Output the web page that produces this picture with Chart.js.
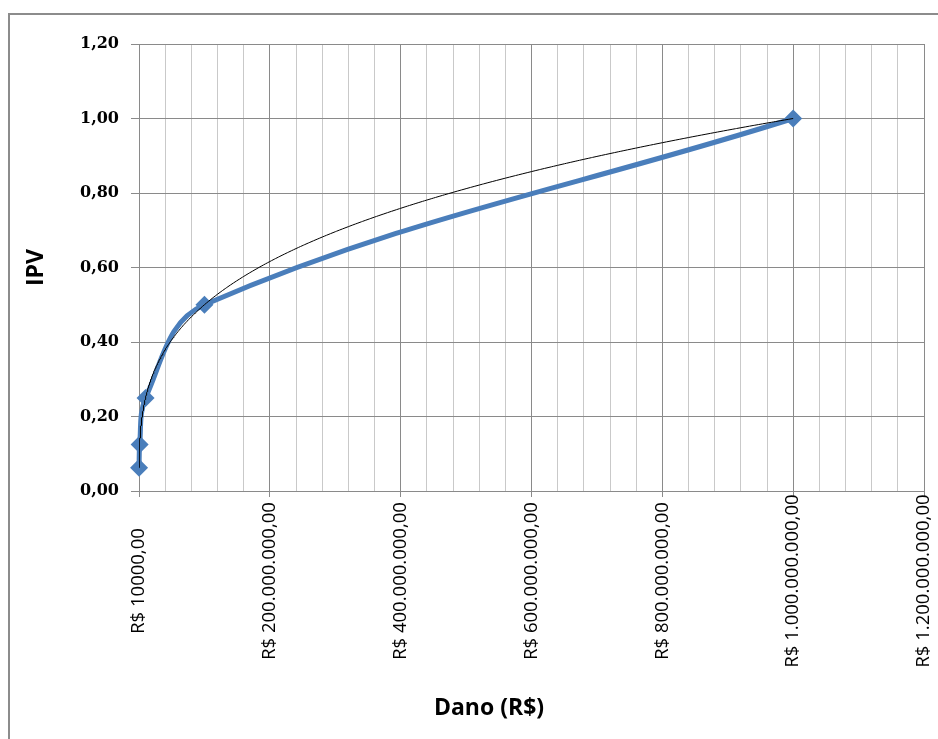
<!DOCTYPE html>
<html>
<head>
<meta charset="utf-8">
<script src="https://cdn.jsdelivr.net/npm/chart.js@4/dist/chart.umd.min.js"></script>
<style>
  html, body { margin: 0; padding: 0; background: #fff; overflow: hidden; }
  #wrap { position: relative; width: 938px; height: 739px; overflow: hidden; }
  #frame { position: absolute; left: 8px; top: 13px; width: 2000px; height: 2000px;
           border: 2px solid #8c8c8c; box-sizing: border-box; }
  canvas { position: absolute; left: 0; top: 0; }
</style>
</head>
<body>
<div id="wrap">
  <div id="frame"></div>
  <canvas id="c" width="938" height="739"></canvas>
</div>
<script>
// Damage (R$) and the matching IPV index
const danoValues = [100000, 1000000, 10000000, 100000000, 1000000000];
const ipvValues  = [0.0625, 0.125, 0.25, 0.5, 1.0];

// Axis ticks
const xTickValues = [0, 200000000, 400000000, 600000000, 800000000, 1000000000, 1200000000];
const xTickLabels = ['R$ 10000,00', 'R$ 200.000.000,00', 'R$ 400.000.000,00', 'R$ 600.000.000,00',
                     'R$ 800.000.000,00', 'R$ 1.000.000.000,00', 'R$ 1.200.000.000,00'];
const yTickLabels = ['0,00', '0,20', '0,40', '0,60', '0,80', '1,00', '1,20'];
const xAxisTitle = 'Dano (R$)';
const yAxisTitle = 'IPV';

const X_MAX = 1200000000;
const X_MINOR = 40000000;
const X_MAJOR = 200000000;

// Power trendline y = a * x^b, least squares in log-log space
function powerFit(xs, ys) {
  const n = xs.length;
  let sx = 0, sy = 0, sxx = 0, sxy = 0;
  for (let i = 0; i < n; i++) {
    const lx = Math.log(xs[i]), ly = Math.log(ys[i]);
    sx += lx; sy += ly; sxx += lx * lx; sxy += lx * ly;
  }
  const b = (n * sxy - sx * sy) / (n * sxx - sx * sx);
  const a = Math.exp((sy - b * sx) / n);
  return { a, b };
}
const fit = powerFit(danoValues, ipvValues);
const xMin = Math.min(...danoValues), xMax = Math.max(...danoValues);
const trendXs = [];
for (let i = 0; i <= 300; i++) trendXs.push(xMin * Math.pow(xMax / xMin, i / 300));
for (let i = 1; i < 150; i++) trendXs.push(xMin + (xMax - xMin) * i / 150);
trendXs.sort((p, q) => p - q);
const trendPoints = trendXs.map(x => ({ x, y: fit.a * Math.pow(x, fit.b) }));

const seriesPoints = danoValues.map((x, i) => ({ x, y: ipvValues[i] }));

const BLUE = '#4a7ebb';
const GRID_DARK = '#8a8a8a';
const GRID_LIGHT = '#c9c9c9';
const isMajor = v => Math.round(v / X_MINOR) % (X_MAJOR / X_MINOR) === 0;

// Rotated currency labels under the horizontal axis, plus the axis title
const xLabelPlugin = {
  id: 'xLabels',
  afterDraw(chart) {
    const xs = chart.scales.x;
    const ctx = chart.ctx;
    ctx.save();
    ctx.font = '18.5px "Open Sans"';
    ctx.fillStyle = '#000';
    ctx.textAlign = 'center';
    ctx.textBaseline = 'middle';
    xTickValues.forEach((v, i) => {
      const px = xs.getPixelForValue(v);
      ctx.save();
      ctx.translate(px, xs.top + 90);
      ctx.rotate(-Math.PI / 2);
      ctx.fillText(xTickLabels[i], 0, 0);
      ctx.restore();
    });
    ctx.font = 'bold 23px "Open Sans"';
    ctx.fillText(xAxisTitle, 489, xs.bottom - 31);
    ctx.restore();
  }
};

new Chart(document.getElementById('c'), {
  type: 'scatter',
  data: {
    datasets: [
      {
        label: 'Potência',
        data: trendPoints,
        showLine: true,
        borderColor: '#000',
        borderWidth: 1,
        pointRadius: 0,
        tension: 0
      },
      {
        label: 'IPV',
        data: seriesPoints,
        showLine: true,
        borderColor: BLUE,
        borderWidth: 5,
        backgroundColor: BLUE,
        pointStyle: 'rectRot',
        pointRadius: 9,
        pointBorderWidth: 0,
        pointBackgroundColor: BLUE,
        tension: 0.38,
        clip: false
      }
    ]
  },
  options: {
    responsive: false,
    animation: false,
    devicePixelRatio: 1,
    layout: { padding: { left: 0, top: 44, right: 14, bottom: 0 } },
    plugins: { legend: { display: false }, tooltip: { enabled: false } },
    events: [],
    scales: {
      x: {
        type: 'linear',
        position: 'bottom',
        min: 0,
        max: X_MAX,
        ticks: { stepSize: X_MINOR, display: false, autoSkip: false },
        grid: {
          color: c => isMajor(c.tick.value) ? GRID_DARK : GRID_LIGHT,
          tickColor: c => isMajor(c.tick.value) ? GRID_DARK : 'rgba(0,0,0,0)',
          tickLength: 6,
          lineWidth: 1
        },
        border: { color: GRID_DARK, width: 1 },
        afterFit(s) { s.height = 739 - 491; }
      },
      y: {
        min: 0,
        max: 1.2,
        ticks: {
          stepSize: 0.2,
          color: '#000',
          padding: 12,
          font: { family: '"DejaVu Serif"', size: 16, weight: 'bold' },
          callback: (v, i) => yTickLabels[i]
        },
        grid: { color: GRID_DARK, tickColor: GRID_DARK, tickLength: 8, lineWidth: 1 },
        border: { color: GRID_DARK, width: 1 },
        title: {
          display: true,
          text: yAxisTitle,
          color: '#000',
          font: { family: '"Open Sans"', size: 23, weight: 'bold' },
          padding: { top: 23, bottom: 0 }
        },
        afterFit(s) { s.width = 139; }
      }
    }
  },
  plugins: [xLabelPlugin]
});
</script>
</body>
</html>
